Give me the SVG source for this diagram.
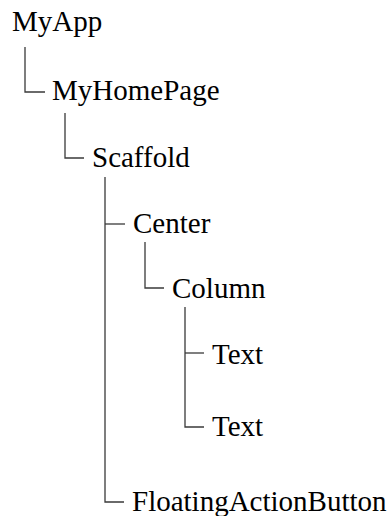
<svg xmlns="http://www.w3.org/2000/svg" width="388" height="516" viewBox="0 0 388 516">
  <style>
    .label { font-family: 'Liberation Serif', 'Times New Roman', Times, serif; font-size: 29px; fill: #000; }
    .link { fill: none; stroke: #3a3a3a; stroke-width: 1.3; }
  </style>
  <rect width="388" height="516" fill="#fff"/>

  <!-- tree connectors: vertical drop from parent, elbow into child -->
  <g id="connectors">
    <path class="link" d="M25 47 V92 H45"/>
    <path class="link" d="M65 113 V158 H84"/>
    <path class="link" d="M105 177 V502 H124"/>
    <path class="link" d="M105 224 H125"/>
    <path class="link" d="M145 242 V288 H164"/>
    <path class="link" d="M185 307 V427 H204"/>
    <path class="link" d="M185 353 H204"/>
  </g>

  <g id="node-myapp"><text class="label" x="12" y="31">MyApp</text></g>
  <g id="node-myhomepage"><text class="label" x="52" y="100">MyHomePage</text></g>
  <g id="node-scaffold"><text class="label" x="92" y="167">Scaffold</text></g>
  <g id="node-center"><text class="label" x="133" y="233">Center</text></g>
  <g id="node-column"><text class="label" x="172" y="298">Column</text></g>
  <g id="node-text-1"><text class="label" x="212" y="364">Text</text></g>
  <g id="node-text-2"><text class="label" x="212" y="436">Text</text></g>
  <g id="node-fab"><text class="label" x="132" y="511">FloatingActionButton</text></g>
</svg>
